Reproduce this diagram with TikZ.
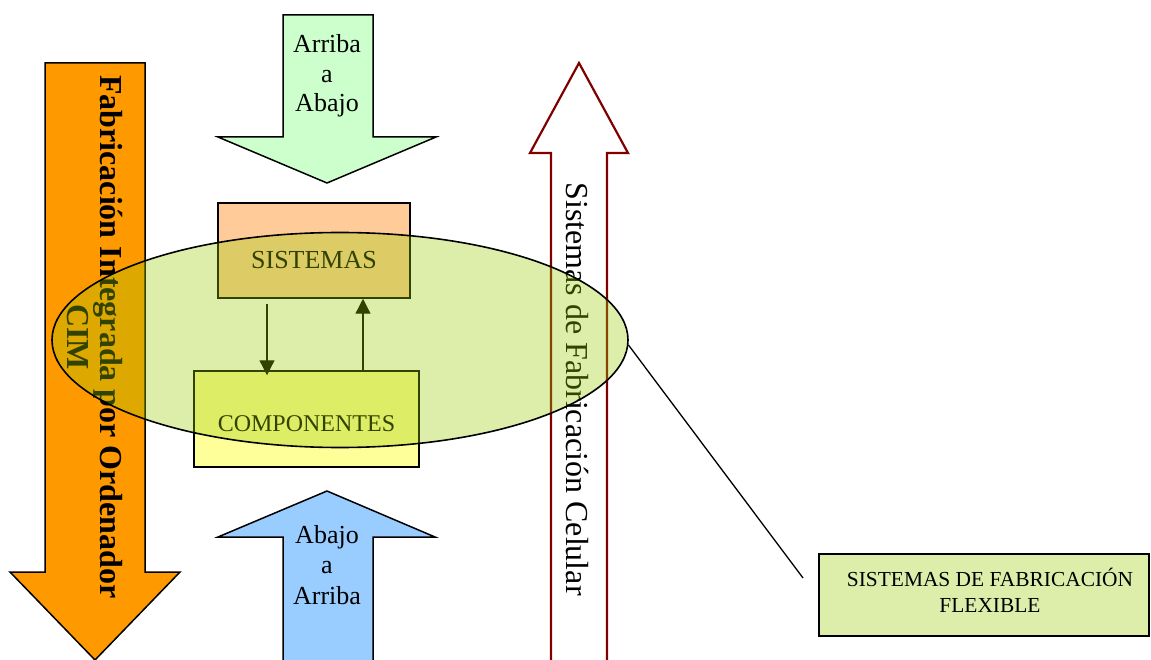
\documentclass[tikz,border=0pt]{standalone}
\usepackage{fontspec}
\setmainfont{Liberation Serif}
\usetikzlibrary{shapes.geometric,arrows.meta}

\definecolor{cimorange}{HTML}{FF9900}
\definecolor{downgreen}{HTML}{CCFFCC}
\definecolor{upblue}{HTML}{99CCFF}
\definecolor{syspeach}{HTML}{FFCC99}
\definecolor{compyellow}{HTML}{FFFF99}
\definecolor{celred}{RGB}{128,0,0}
\definecolor{fmsgreen}{HTML}{99CC00}

\begin{document}
\begin{tikzpicture}[x=1pt,y=-1pt,
  blockarrow/.style={draw=black,line width=1.5pt,line join=miter},
  levelbox/.style={draw=black,line width=1.5pt,inner sep=0pt},
  plainlabel/.style={inner sep=0pt},
  flow/.style={draw=black,line width=1.3pt,-{Triangle[length=15pt,width=15pt]}},
  fmsfill/.style={fill=fmsgreen,fill opacity=0.33,text opacity=1}
]
\clip (0,0) rectangle (1151,660);

% computer integrated manufacturing (downward arrow)
\path[blockarrow,fill=cimorange]
  (45,63) -- (145,63) -- (145,572) -- (180,572) -- (95,660) -- (10,572) -- (45,572) -- cycle;
\node[plainlabel,rotate=-90,align=center,font=\bfseries\fontsize{32}{33}\selectfont] (cimtxt)
  at (95,337) {Fabricación Integrada por Ordenador\\CIM};

% top-down arrow
\path[blockarrow,fill=downgreen]
  (283,15) -- (373,15) -- (373,137) -- (436,137) -- (327,183) -- (218,137) -- (283,137) -- cycle;
\node[plainlabel,align=center,font=\fontsize{26}{29.5}\selectfont] (toptxt)
  at (327,76) {Arriba\\a\\Abajo};

% bottom-up arrow
\path[blockarrow,fill=upblue]
  (283,670) -- (283,537) -- (218,537) -- (327,491) -- (435,537) -- (373,537) -- (373,670) -- cycle;
\node[plainlabel,align=center,font=\fontsize{26}{30.5}\selectfont] (bottxt)
  at (327,565) {Abajo\\a\\Arriba};

% cellular manufacturing (upward outline arrow)
\path[draw=celred,line width=2.2pt,fill=white,line join=miter]
  (551,670) -- (551,153) -- (530,153) -- (579,63) -- (628,153) -- (607,153) -- (607,670);
\node[plainlabel,rotate=-90,font=\fontsize{32}{36}\selectfont] (celtxt)
  at (577,389) {Sistemas de Fabricación Celular};

% systems and components
\node[levelbox,fill=syspeach,minimum width=192pt,minimum height=95pt] (sis) at (314,250.5) {};
\node[plainlabel,font=\fontsize{26}{30}\selectfont] (sistxt) at (314,260.5) {SISTEMAS};
\node[levelbox,fill=compyellow,minimum width=225pt,minimum height=96pt] (comp) at (306.5,419) {};
\node[plainlabel,font=\fontsize{24}{28}\selectfont] (comptxt) at (306.5,424) {COMPONENTES};

\draw[flow] ([xshift=-47pt,yshift=-5pt]sis.south) -- ([xshift=-47pt,yshift=-5pt]sis.south |- comp.north);
\draw[flow] ([xshift=56.5pt]comp.north) -- ([xshift=56.5pt]comp.north |- sis.south);

% flexible manufacturing region
\node[ellipse,draw=black,line width=1.6pt,fmsfill,inner sep=0pt,
      minimum width=576pt,minimum height=215pt] (fms) at (340,340) {};

\node[draw=black,line width=1.5pt,fmsfill,inner sep=0pt,
      minimum width=330pt,minimum height=82pt] (fmsbox) at (984,595) {};
\node[plainlabel,align=center,font=\fontsize{21.4}{26}\selectfont] (fmstxt)
  at (990,590) {SISTEMAS DE FABRICACIÓN\\FLEXIBLE};

\coordinate (callout) at (803,578);
\draw[black,line width=1.3pt] (fms.-1) -- (callout);
\end{tikzpicture}
\end{document}
